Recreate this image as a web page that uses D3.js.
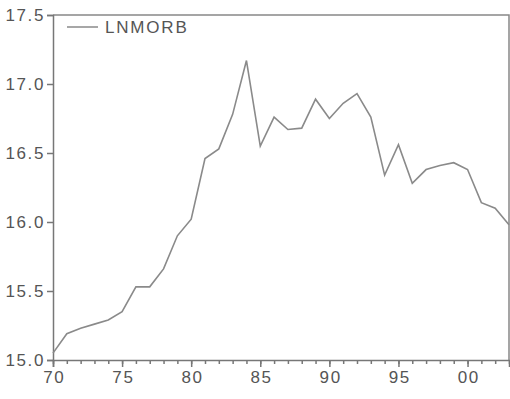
<!DOCTYPE html>
<html>
<head>
<meta charset="utf-8">
<script src="https://cdn.jsdelivr.net/npm/d3@7"></script>
<style>
  body { margin: 0; background: #fff; }
  text { font-family: "Liberation Sans", Arial, sans-serif; fill: #555; }
</style>
</head>
<body>
<div id="chart"></div>
<script>
// data
var years = [1970, 1971, 1972, 1973, 1974, 1975, 1976, 1977, 1978, 1979,
             1980, 1981, 1982, 1983, 1984, 1985, 1986, 1987, 1988, 1989,
             1990, 1991, 1992, 1993, 1994, 1995, 1996, 1997, 1998, 1999,
             2000, 2001, 2002, 2003];
var lnmorb = [15.05, 15.19, 15.23, 15.26, 15.29, 15.35, 15.53, 15.53, 15.66, 15.90,
              16.02, 16.46, 16.53, 16.78, 17.17, 16.55, 16.76, 16.67, 16.68, 16.89,
              16.75, 16.86, 16.93, 16.76, 16.34, 16.56, 16.28, 16.38, 16.41, 16.43,
              16.38, 16.14, 16.10, 15.98];
var yTicks = [15.0, 15.5, 16.0, 16.5, 17.0, 17.5];
var xTicks = [1970, 1975, 1980, 1985, 1990, 1995, 2000];
var seriesName = 'LNMORB';

var width = 510, height = 399;
var margins = { top: 15, right: 1, bottom: 39, left: 53 };

var svg = d3.select('#chart').append('svg')
    .attr('width', width)
    .attr('height', height);

var x = d3.scaleLinear()
    .domain([1970, 2003])
    .range([margins.left, width - margins.right]);

var y = d3.scaleLinear()
    .domain([15.0, 17.5])
    .range([height - margins.bottom, margins.top]);

var axisColor = '#777';

// frame (top + right)
svg.append('path')
    .attr('d', 'M' + x(1970) + ',' + y(17.5) + 'H' + x(2003) + 'V' + y(15.0))
    .attr('fill', 'none')
    .attr('stroke', '#888')
    .attr('stroke-width', 1.5);

// y axis
var yAxis = svg.append('g')
    .attr('transform', 'translate(' + margins.left + ',0)')
    .call(d3.axisLeft(y).tickValues(yTicks).tickFormat(d3.format('.1f')).tickSize(6).tickPadding(2));
yAxis.selectAll('text')
    .style('font-size', '17px')
    .style('letter-spacing', '1.6px');

// x axis: minor ticks every year, labels every 5
var xMinor = svg.append('g')
    .attr('transform', 'translate(0,' + y(15.0) + ')')
    .call(d3.axisBottom(x).tickValues(d3.range(1970, 2004)).tickFormat('').tickSize(4));
xMinor.select('.domain').remove();

var xAxis = svg.append('g')
    .attr('transform', 'translate(0,' + y(15.0) + ')')
    .call(d3.axisBottom(x).tickValues(xTicks)
        .tickFormat(function(d) { return d3.format('02d')(d % 100); })
        .tickSize(7).tickPadding(4));
xAxis.selectAll('text')
    .style('font-size', '17px')
    .style('letter-spacing', '1.6px')
    .attr('dx', '0.8px');

svg.selectAll('.domain, .tick line')
    .attr('stroke', axisColor)
    .attr('stroke-width', 1.5);
svg.selectAll('.tick text').attr('fill', '#555');

// the series
var line = d3.line()
    .x(function(d, i) { return x(years[i]); })
    .y(function(d) { return y(d); });

svg.append('path')
    .datum(lnmorb)
    .attr('d', line)
    .attr('fill', 'none')
    .attr('stroke', '#8a8a8a')
    .attr('stroke-width', 1.6);

// legend
var legend = svg.append('g').attr('transform', 'translate(67,27)');
legend.append('line')
    .attr('x1', 0).attr('x2', 31)
    .attr('stroke', '#8a8a8a')
    .attr('stroke-width', 1.5);
legend.append('text')
    .attr('x', 38)
    .attr('y', 6)
    .style('font-size', '17px')
    .style('letter-spacing', '1.8px')
    .text(seriesName);
</script>
</body>
</html>
